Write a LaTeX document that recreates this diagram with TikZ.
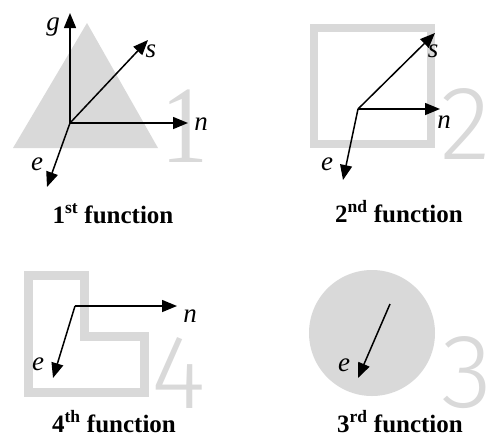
\documentclass[tikz,border=0pt]{standalone}
\usepackage{fontspec}
\setmainfont{Liberation Serif}
\newfontfamily\digitfont{Fira Sans Light}
\usetikzlibrary{arrows.meta}
\definecolor{lightgreyfill}{HTML}{D9D9D9}
\begin{document}
\begin{tikzpicture}[x=1pt,y=-1pt,
  axis/.style={line width=1.5pt,-{Triangle[length=15pt,width=12pt]}},
  lab/.style={font=\fontsize{27}{27}\selectfont\itshape,anchor=base,inner sep=0pt},
  captext/.style={font=\fontsize{25}{25}\selectfont\bfseries,anchor=base,inner sep=0pt},
  bigdigit/.style={text=lightgreyfill,anchor=base,inner sep=0pt,font=\fontsize{105}{105}\selectfont\digitfont}]
\useasboundingbox (0,0) rectangle (487,445);
% ---------- panel 1 ----------
\fill[lightgreyfill] (87,23) -- (158,148) -- (13,148) -- cycle;
\node[bigdigit,font=\fontsize{110}{110}\selectfont\rmfamily,xscale=0.85] (d1) at (185,162) {1};
\coordinate (o1) at (70,123);
\coordinate (g1) at (70,13);
\coordinate (s1) at (148,40);
\coordinate (n1) at (188,123);
\coordinate (e1) at (47,187);
\draw[axis] (o1) -- (g1);
\draw[axis] (o1) -- (s1);
\draw[axis] (o1) -- (n1);
\draw[axis] (o1) -- (e1);
\node[lab] (lg1) at (53,30) {g};
\node[lab] (ls1) at (151,57) {s};
\node[lab] (ln1) at (201,130) {n};
\node[lab] (le1) at (37,170) {e};
\node[captext] (c1) at (113,223) {1\textsuperscript{st} function};
% ---------- panel 2 ----------
\draw[lightgreyfill,line width=8pt] (314,28) rectangle (431,144);
\node[bigdigit] (d2) at (466,159) {2};
\coordinate (o2) at (358,109);
\coordinate (s2) at (435,33);
\coordinate (n2) at (440,109);
\coordinate (e2) at (343,180);
\draw[axis] (o2) -- (s2);
\draw[axis] (o2) -- (n2);
\draw[axis] (o2) -- (e2);
\node[lab] (ls2) at (433,57) {s};
\node[lab] (ln2) at (444,128) {n};
\node[lab] (le2) at (327,170) {e};
\node[captext] (c2) at (399,222) {2\textsuperscript{nd} function};
% ---------- panel 4 ----------
\draw[lightgreyfill,line width=9pt,line join=miter] (28,275) -- (84,275) -- (84,336) -- (144,336) -- (144,392) -- (28,392) -- cycle;
\node[bigdigit] (d4) at (179,408) {4};
\coordinate (o4) at (75,306);
\coordinate (n4) at (177,306);
\coordinate (e4) at (53,378);
\draw[axis] (o4) -- (n4);
\draw[axis] (o4) -- (e4);
\node[lab] (ln4) at (190,322) {n};
\node[lab] (le4) at (38,370) {e};
\node[captext] (c4) at (114,432) {4\textsuperscript{th} function};
% ---------- panel 3 ----------
\fill[lightgreyfill] (372,333) circle (63);
\node[bigdigit] (d3) at (467,407) {3};
\coordinate (o3) at (390,304);
\coordinate (e3) at (358,378);
\draw[axis] (o3) -- (e3);
\node[lab] (le3) at (344,371) {e};
\node[captext] (c3) at (400,432) {3\textsuperscript{rd} function};
\end{tikzpicture}
\end{document}
